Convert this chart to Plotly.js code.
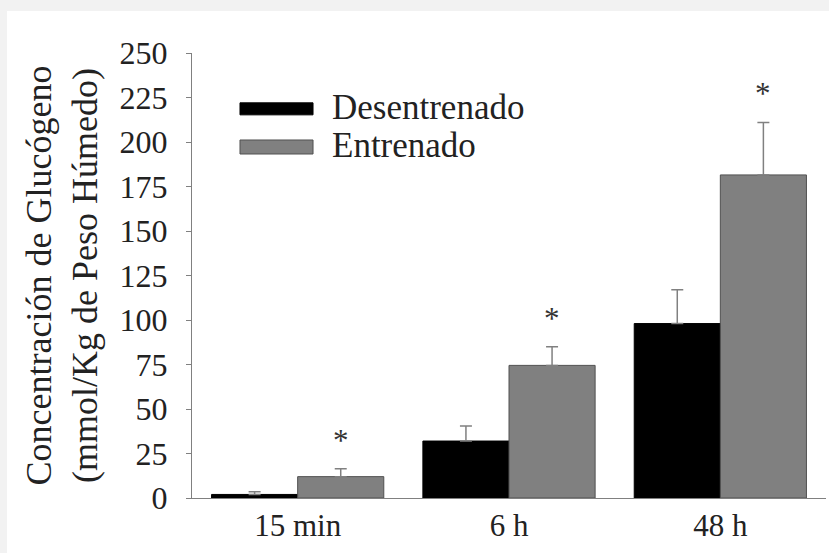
<!DOCTYPE html>
<html>
<head>
<meta charset="utf-8">
<script src="https://cdn.plot.ly/plotly-3.0.1.min.js"></script>
<style>html,body{margin:0;padding:0;background:#f2f2f2;}#chart{width:829px;height:553px;}</style>
</head>
<body>
<div id="chart"></div>
<script>
var categories = ['15 min', '6 h', '48 h'];
var seriesNames = ['Desentrenado', 'Entrenado'];
var desentrenado = [2, 32, 98];
var desentrenadoErr = [1.5, 8.5, 19];
var entrenado = [12, 74.5, 181.5];
var entrenadoErr = [4.5, 10.5, 29.5];
var significant = [true, true, true];
var yTitle = 'Concentración de Glucógeno<br>(mmol/Kg de Peso Húmedo)';

var FONT = '"Liberation Serif", "Times New Roman", Times, serif';
var BARGAP = 0.185;
var errStyle = {type: 'data', symmetric: false, color: '#808080', thickness: 1.5, width: 6};

var traces = [
  {type: 'bar', name: seriesNames[0], x: categories, y: desentrenado,
   marker: {color: '#000000', line: {color: '#000000', width: 1}},
   error_y: Object.assign({array: desentrenadoErr, arrayminus: desentrenado.map(function(){return 0;})}, errStyle),
   showlegend: false},
  {type: 'bar', name: seriesNames[1], x: categories, y: entrenado,
   marker: {color: '#808080', line: {color: '#505050', width: 1}},
   error_y: Object.assign({array: entrenadoErr, arrayminus: entrenado.map(function(){return 0;})}, errStyle),
   showlegend: false}
];

var offset = (1 - BARGAP) / 4;
var annotations = [];
significant.forEach(function(s, i){
  if (s) annotations.push({xref: 'x', yref: 'y', x: i + offset, y: entrenado[i] + entrenadoErr[i] + 16,
    text: '*', showarrow: false, yanchor: 'middle', font: {family: FONT, size: 31, color: '#333'}});
});
// legend labels
var legendY = [0.877, 0.793];
seriesNames.forEach(function(n, i){
  annotations.push({xref: 'paper', yref: 'paper', x: 0.2177, y: legendY[i], xanchor: 'left', yanchor: 'middle',
    text: n, showarrow: false, font: {family: FONT, size: 35, color: '#222'}});
});

var shapes = [
  {type: 'rect', xref: 'paper', yref: 'paper', x0: -0.2918, x1: 1.05, y0: -0.25, y1: 1.0944,
   fillcolor: '#ffffff', line: {width: 0}, layer: 'below'},
  {type: 'rect', xref: 'paper', yref: 'paper', x0: 0.0757, x1: 0.1909, y0: 0.861, y1: 0.888,
   fillcolor: '#000000', line: {color: '#000000', width: 1}},
  {type: 'rect', xref: 'paper', yref: 'paper', x0: 0.0757, x1: 0.1909, y0: 0.773, y1: 0.8045,
   fillcolor: '#808080', line: {color: '#505050', width: 1}}
];

var layout = {
  width: 829, height: 553,
  margin: {l: 192, r: 3, t: 53, b: 55},
  paper_bgcolor: '#f2f2f2', plot_bgcolor: '#ffffff',
  barmode: 'group', bargap: BARGAP, bargroupgap: 0,
  showlegend: false,
  font: {family: FONT, color: '#222'},
  xaxis: {type: 'category', range: [-0.5, 2.5], showline: true, linecolor: '#808080', linewidth: 1,
    ticks: '', showgrid: false, zeroline: false, tickfont: {family: FONT, size: 31, color: '#222'}, fixedrange: true},
  yaxis: {range: [0, 250], dtick: 25, tick0: 0, showline: true, linecolor: '#808080', linewidth: 1,
    ticks: 'outside', ticklen: 5, tickcolor: '#808080', showgrid: false, zeroline: false,
    ticklabelstandoff: 12,
    tickfont: {family: FONT, size: 32, color: '#222'},
    title: {text: yTitle, font: {family: FONT, size: 36, color: '#222'}, standoff: 10}, fixedrange: true},
  annotations: annotations,
  shapes: shapes
};

Plotly.newPlot('chart', traces, layout, {staticPlot: true, displayModeBar: false});
</script>
</body>
</html>
